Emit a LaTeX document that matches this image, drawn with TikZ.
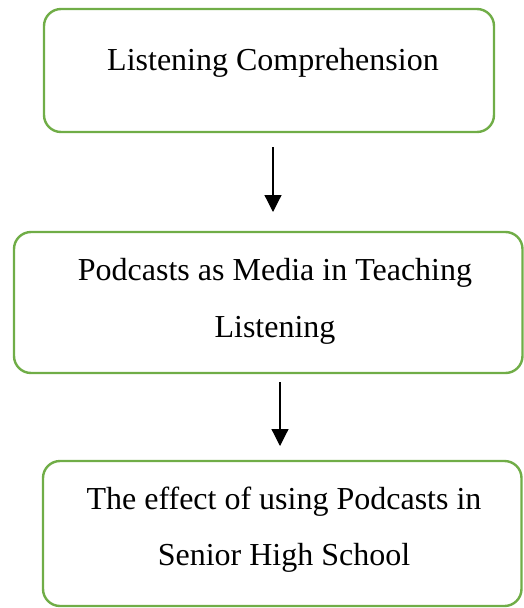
\documentclass[tikz,border=0pt]{standalone}
\usepackage{fontspec}
\setmainfont{Liberation Serif}
\usetikzlibrary{arrows.meta}
\definecolor{boxgreen}{HTML}{70AD47}
\tikzset{
  flowbox/.style={draw=boxgreen, line width=2.4pt, rounded corners=17pt},
  txt/.style={anchor=base, inner sep=0pt, font=\fontsize{32}{38}\selectfont},
  flowarrow/.style={line width=1.2pt, -{Triangle[width=17pt,length=17pt]}}
}
\begin{document}
\begin{tikzpicture}[x=1pt,y=-1pt]
\useasboundingbox (0,0) rectangle (524,608);
% boxes
\draw[flowbox] (44,9) rectangle (494,132);
\draw[flowbox] (14,232) rectangle (522.5,373);
\draw[flowbox] (43,461) rectangle (521.5,606);
% texts
\node[txt] (t1) at (273,70) {Listening Comprehension};
\node[txt] (t2a) at (275,280) {Podcasts as Media in Teaching};
\node[txt] (t2b) at (275,337) {Listening};
\node[txt] (t3a) at (284,509) {The effect of using Podcasts in};
\node[txt] (t3b) at (284,565) {Senior High School};
% arrows
\coordinate (a1s) at (273,147);
\coordinate (a1e) at (273,212);
\coordinate (a2s) at (280,382);
\coordinate (a2e) at (280,446);
\draw[flowarrow] (a1s) -- (a1e);
\draw[flowarrow] (a2s) -- (a2e);
\end{tikzpicture}
\end{document}
